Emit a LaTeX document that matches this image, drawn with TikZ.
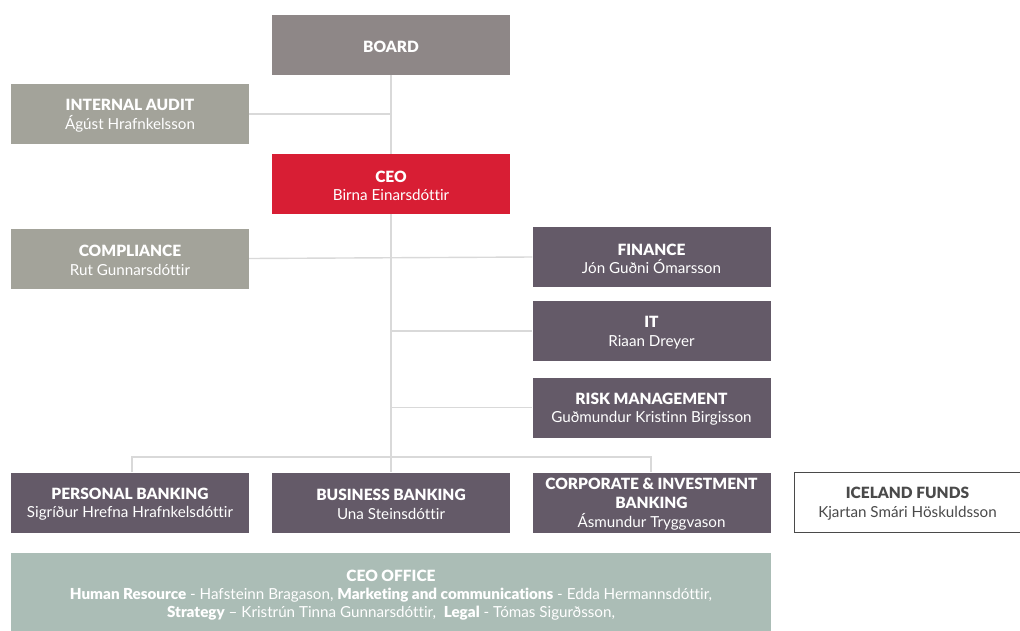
\documentclass[tikz,border=0pt]{standalone}
\usepackage{fontspec}
\setmainfont{Lato}[Ligatures={NoCommon,TeX},BoldFont={Lato Black}]
\definecolor{boardc}{HTML}{8E8787}
\definecolor{staffc}{HTML}{A3A39A}
\definecolor{ceoc}{HTML}{D81E34}
\definecolor{unitc}{HTML}{645A68}
\definecolor{officec}{HTML}{ABBDB6}
\definecolor{linec}{HTML}{D9D9D9}
\definecolor{fundc}{HTML}{4A4A4A}
\newcommand{\hd}[1]{{\fontsize{15.5}{18.5}\selectfont\bfseries\rule{0pt}{15pt}#1}}
\begin{document}
\begin{tikzpicture}[x=1pt,y=-1pt,
  box/.style={rectangle,inner sep=0pt,minimum width=238pt,minimum height=60pt,
    align=center,text=white,font=\fontsize{15.2}{18.7}\selectfont},
  conn/.style={draw=linec,line width=1.4pt}]
\useasboundingbox (0,0) rectangle (1020,630);
\node[box,fill=boardc] (board) at (391,45) {\hd{BOARD}};
\node[box,fill=staffc] (audit) at (130,114) {\hd{INTERNAL AUDIT}\\Ágúst Hrafnkelsson};
\node[box,fill=ceoc] (ceo) at (391,184) {\hd{CEO}\\Birna Einarsdóttir};
\node[box,fill=staffc] (comp) at (130,258.5) {\hd{COMPLIANCE}\\Rut Gunnarsdóttir};
\node[box,fill=unitc] (fin) at (651.5,257) {\hd{FINANCE}\\Jón Guðni Ómarsson};
\node[box,fill=unitc] (it) at (651.5,331) {\hd{IT}\\Riaan Dreyer};
\node[box,fill=unitc] (risk) at (651.5,407.5) {\hd{RISK MANAGEMENT}\\Guðmundur Kristinn Birgisson};
\node[box,fill=unitc] (pers) at (130,502.5) {\hd{PERSONAL BANKING}\\Sigríður Hrefna Hrafnkelsdóttir};
\node[box,fill=unitc] (bus) at (391,502.5) {\hd{BUSINESS BANKING}\\Una Steinsdóttir};
\node[box,fill=unitc] (corp) at (651.5,502.5) {\hd{CORPORATE \& INVESTMENT}\\\hd{BANKING}\\Ásmundur Tryggvason};
\node[box,fill=white,draw=fundc,line width=0.8pt,minimum width=226pt,text=fundc] (fund) at (907.5,502) {\hd{ICELAND FUNDS}\\Kjartan Smári Höskuldsson};
\node[box,fill=officec,minimum width=760pt,minimum height=80pt,anchor=north,
  font=\fontsize{15.2}{18}\selectfont] (office) at (391,553)
 {\hd{CEO OFFICE}\\\textbf{Human Resource} - Hafsteinn Bragason, \textbf{Marketing and communications} - Edda Hermannsdóttir,\\\textbf{Strategy} – Kristrún Tinna Gunnarsdóttir,\ \ \textbf{Legal} - Tómas Sigurðsson,};
\coordinate (bl) at (132,457);
\coordinate (bm) at (391,457);
\coordinate (br) at (651,457);
\draw[conn] (board.south) -- (ceo.north);
\draw[conn] (audit.east) -- (audit.east -| board.south);
\draw[conn] (ceo.south) -- (bm);
\draw[conn] (comp.east) -- (fin.west);
\draw[conn] (it.west) -- (it.west -| bm);
\draw[conn] (risk.west) -- (risk.west -| bm);
\draw[conn] (pers.north -| bl) -- (bl) -- (br) -- (corp.north -| br);
\draw[conn] (bm) -- (bus.north);
\end{tikzpicture}
\end{document}
